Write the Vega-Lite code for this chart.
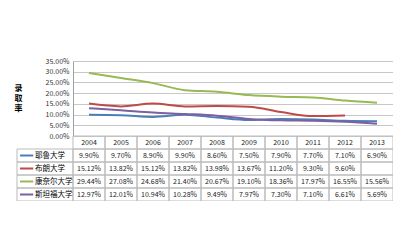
{
  "$schema": "https://vega.github.io/schema/vega-lite/v6.json",
  "autosize": {"type": "none"},
  "padding": {"left": 17, "top": 61, "right": 0, "bottom": 0},
  "width": 376,
  "height": 140,
  "background": "white",
  "config": {"font": "Noto Sans CJK SC", "view": {"stroke": null}},
  "data": {"values": [
    {"year": "2004", "school": "耶鲁大学", "rate": 0.099},
    {"year": "2005", "school": "耶鲁大学", "rate": 0.097},
    {"year": "2006", "school": "耶鲁大学", "rate": 0.089},
    {"year": "2007", "school": "耶鲁大学", "rate": 0.099},
    {"year": "2008", "school": "耶鲁大学", "rate": 0.086},
    {"year": "2009", "school": "耶鲁大学", "rate": 0.075},
    {"year": "2010", "school": "耶鲁大学", "rate": 0.079},
    {"year": "2011", "school": "耶鲁大学", "rate": 0.077},
    {"year": "2012", "school": "耶鲁大学", "rate": 0.071},
    {"year": "2013", "school": "耶鲁大学", "rate": 0.069},
    {"year": "2004", "school": "布朗大学", "rate": 0.1512},
    {"year": "2005", "school": "布朗大学", "rate": 0.1382},
    {"year": "2006", "school": "布朗大学", "rate": 0.1512},
    {"year": "2007", "school": "布朗大学", "rate": 0.1382},
    {"year": "2008", "school": "布朗大学", "rate": 0.1398},
    {"year": "2009", "school": "布朗大学", "rate": 0.1367},
    {"year": "2010", "school": "布朗大学", "rate": 0.112},
    {"year": "2011", "school": "布朗大学", "rate": 0.093},
    {"year": "2012", "school": "布朗大学", "rate": 0.096},
    {"year": "2013", "school": "布朗大学", "rate": null},
    {"year": "2004", "school": "康奈尔大学", "rate": 0.2944},
    {"year": "2005", "school": "康奈尔大学", "rate": 0.2708},
    {"year": "2006", "school": "康奈尔大学", "rate": 0.2468},
    {"year": "2007", "school": "康奈尔大学", "rate": 0.214},
    {"year": "2008", "school": "康奈尔大学", "rate": 0.2067},
    {"year": "2009", "school": "康奈尔大学", "rate": 0.191},
    {"year": "2010", "school": "康奈尔大学", "rate": 0.1836},
    {"year": "2011", "school": "康奈尔大学", "rate": 0.1797},
    {"year": "2012", "school": "康奈尔大学", "rate": 0.1655},
    {"year": "2013", "school": "康奈尔大学", "rate": 0.1556},
    {"year": "2004", "school": "斯坦福大学", "rate": 0.1297},
    {"year": "2005", "school": "斯坦福大学", "rate": 0.1201},
    {"year": "2006", "school": "斯坦福大学", "rate": 0.1094},
    {"year": "2007", "school": "斯坦福大学", "rate": 0.1028},
    {"year": "2008", "school": "斯坦福大学", "rate": 0.0949},
    {"year": "2009", "school": "斯坦福大学", "rate": 0.0797},
    {"year": "2010", "school": "斯坦福大学", "rate": 0.073},
    {"year": "2011", "school": "斯坦福大学", "rate": 0.071},
    {"year": "2012", "school": "斯坦福大学", "rate": 0.0661},
    {"year": "2013", "school": "斯坦福大学", "rate": 0.0569}
  ]},
  "resolve": {"scale": {"x": "independent", "y": "independent", "color": "independent"}, "axis": {"x": "independent", "y": "independent"}},
  "layer": [
    {
      "mark": {"type": "line", "interpolate": "monotone", "strokeWidth": 2},
      "encoding": {
        "x": {"field": "year", "type": "nominal", "axis": null,
              "scale": {"domain": ["2004","2005","2006","2007","2008","2009","2010","2011","2012","2013"], "range": [56, 376], "paddingInner": 0, "paddingOuter": 0}},
        "y": {"field": "rate", "type": "quantitative",
              "scale": {"domain": [0, 0.35], "range": [75, 0], "nice": false, "zero": false},
              "axis": {"values": [0, 0.05, 0.1, 0.15, 0.2, 0.25, 0.3, 0.35], "format": ".2%", "offset": -56,
                       "title": ["录", "取", "率"], "titleAngle": 0, "titleBaseline": "middle", "titleAlign": "center",
                       "titleX": -55, "titleY": 27, "titleLineHeight": 10,
                       "titleFontSize": 8, "titleFontWeight": "bold", "titleColor": "#000",
                       "labelFontSize": 7, "labelColor": "#333", "labelPadding": 4, "ticks": false,
                       "domain": true, "domainColor": "#a0a0a0", "gridColor": "#c8c8c8", "grid": true}},
        "color": {"field": "school", "type": "nominal", "legend": null,
                  "scale": {"domain": ["耶鲁大学", "布朗大学", "康奈尔大学", "斯坦福大学"],
                            "range": ["#4A7EBB", "#BE4B48", "#98B954", "#7D60A0"]}}
      }
    },
    {
      "mark": {"type": "rect", "fill": "transparent", "stroke": "#bbbbbb", "strokeWidth": 1},
      "encoding": {
        "x": {"field": "year", "type": "nominal", "axis": null,
              "scale": {"domain": ["2004","2005","2006","2007","2008","2009","2010","2011","2012","2013"], "range": [56, 376], "paddingInner": 0, "paddingOuter": 0}},
        "y": {"field": "school", "type": "nominal", "axis": null,
              "scale": {"domain": ["hdr", "耶鲁大学", "布朗大学", "康奈尔大学", "斯坦福大学"], "range": [75, 140], "paddingInner": 0, "paddingOuter": 0}}
      }
    },
    {
      "transform": [{"filter": "datum.school == '耶鲁大学'"}],
      "mark": {"type": "rect", "fill": "transparent", "stroke": "#bbbbbb", "strokeWidth": 1},
      "encoding": {
        "x": {"field": "year", "type": "nominal", "axis": null,
              "scale": {"domain": ["2004","2005","2006","2007","2008","2009","2010","2011","2012","2013"], "range": [56, 376], "paddingInner": 0, "paddingOuter": 0}},
        "y": {"datum": "hdr", "type": "nominal", "axis": null,
              "scale": {"domain": ["hdr", "耶鲁大学", "布朗大学", "康奈尔大学", "斯坦福大学"], "range": [75, 140], "paddingInner": 0, "paddingOuter": 0}}
      }
    },
    {
      "transform": [{"filter": "isValid(datum.rate)"}],
      "mark": {"type": "text", "fontSize": 7, "color": "#222", "baseline": "middle"},
      "encoding": {
        "x": {"field": "year", "type": "nominal", "axis": null,
              "scale": {"domain": ["2004","2005","2006","2007","2008","2009","2010","2011","2012","2013"], "range": [56, 376], "paddingInner": 0, "paddingOuter": 0}},
        "y": {"field": "school", "type": "nominal", "axis": null,
              "scale": {"domain": ["hdr", "耶鲁大学", "布朗大学", "康奈尔大学", "斯坦福大学"], "range": [75, 140], "paddingInner": 0, "paddingOuter": 0}},
        "text": {"field": "rate", "type": "quantitative", "format": ".2%"}
      }
    },
    {
      "transform": [{"filter": "datum.school == '耶鲁大学'"}],
      "mark": {"type": "text", "fontSize": 7, "color": "#222", "baseline": "middle"},
      "encoding": {
        "x": {"field": "year", "type": "nominal", "axis": null,
              "scale": {"domain": ["2004","2005","2006","2007","2008","2009","2010","2011","2012","2013"], "range": [56, 376], "paddingInner": 0, "paddingOuter": 0}},
        "y": {"datum": "hdr", "type": "nominal", "axis": null,
              "scale": {"domain": ["hdr", "耶鲁大学", "布朗大学", "康奈尔大学", "斯坦福大学"], "range": [75, 140], "paddingInner": 0, "paddingOuter": 0}},
        "text": {"field": "year"}
      }
    },
    {
      "transform": [{"filter": "datum.year == '2004'"}],
      "mark": {"type": "rect", "fill": "transparent", "stroke": "#bbbbbb", "strokeWidth": 1},
      "encoding": {
        "x": {"datum": 0, "type": "quantitative", "axis": null, "scale": {"domain": [0, 1], "range": [0, 56]}},
        "x2": {"datum": 1},
        "y": {"field": "school", "type": "nominal", "axis": null,
              "scale": {"domain": ["hdr", "耶鲁大学", "布朗大学", "康奈尔大学", "斯坦福大学"], "range": [75, 140], "paddingInner": 0, "paddingOuter": 0}}
      }
    },
    {
      "transform": [{"filter": "datum.year == '2004'"}],
      "mark": {"type": "rule", "strokeWidth": 2},
      "encoding": {
        "x": {"datum": 0.054, "type": "quantitative", "axis": null, "scale": {"domain": [0, 1], "range": [0, 56]}},
        "x2": {"datum": 0.29},
        "y": {"field": "school", "type": "nominal", "axis": null,
              "scale": {"domain": ["hdr", "耶鲁大学", "布朗大学", "康奈尔大学", "斯坦福大学"], "range": [75, 140], "paddingInner": 0, "paddingOuter": 0}},
        "color": {"field": "school", "type": "nominal", "legend": null,
                  "scale": {"domain": ["耶鲁大学", "布朗大学", "康奈尔大学", "斯坦福大学"],
                            "range": ["#4A7EBB", "#BE4B48", "#98B954", "#7D60A0"]}}
      }
    },
    {
      "transform": [{"filter": "datum.year == '2004'"}],
      "mark": {"type": "text", "align": "left", "baseline": "middle", "fontSize": 7.5, "color": "#000"},
      "encoding": {
        "x": {"datum": 0.32, "type": "quantitative", "axis": null, "scale": {"domain": [0, 1], "range": [0, 56]}},
        "y": {"field": "school", "type": "nominal", "axis": null,
              "scale": {"domain": ["hdr", "耶鲁大学", "布朗大学", "康奈尔大学", "斯坦福大学"], "range": [75, 140], "paddingInner": 0, "paddingOuter": 0}},
        "text": {"field": "school"}
      }
    }
  ]
}
